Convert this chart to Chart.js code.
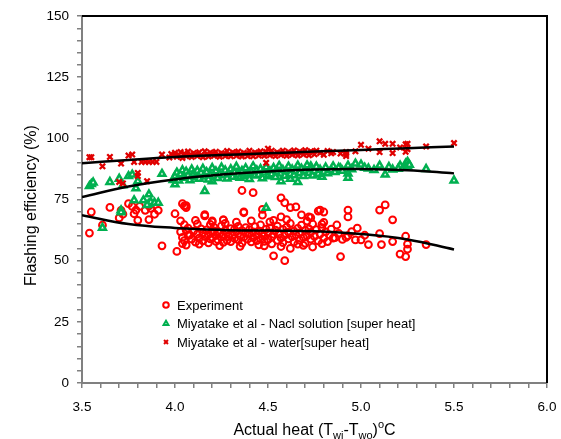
<!DOCTYPE html>
<html>
<head>
<meta charset="utf-8">
<script src="https://cdn.jsdelivr.net/npm/chart.js@4.4.1/dist/chart.umd.min.js"></script>
<style>
  html, body { margin: 0; padding: 0; background: #fff; }
</style>
</head>
<body>
<canvas id="chart" width="561" height="439"></canvas>
<script>
const xMin = 3.5, xMax = 6.0;
const yMin = 0, yMax = 150;

const seriesLabels = [
  'Experiment',
  'Miyatake et al - Nacl solution [super heat]',
  'Miyatake et al - water[super heat]',
];

// experiment, red circles
const experimentPoints = [
  [3.54,61.3],[3.55,69.9],[3.61,64.5],[3.65,71.8],[3.70,67.5],[3.71,70.6],[3.72,69.0],[3.75,73.3],
  [3.77,72.2],[3.78,69.2],[3.79,70.7],[3.80,66.5],[3.81,72.2],[3.84,70.6],[3.86,66.8],[3.86,72.4],
  [3.87,71.4],[3.89,69.0],[3.91,70.6],[3.93,56.1],[4.00,69.2],[4.01,53.8],[4.03,66.3],[4.04,73.3],
  [4.06,72.5],[4.03,61.8],[4.04,59.5],[4.05,58.2],[4.04,57.0],[4.06,62.5],[4.07,60.3],[4.16,68.8],
  [4.20,66.3],[4.21,62.2],[4.26,66.7],[4.36,78.7],[4.37,70.0],[4.42,77.8],[4.48,56.1],[4.53,52.0],
  [4.57,75.7],[4.59,73.7],[4.59,50.0],[4.62,71.7],[4.65,72.0],[4.66,56.8],[4.68,68.7],[4.72,67.9],
  [4.57,67.9],[4.53,66.5],[4.37,69.6],[4.26,66.7],[4.20,65.9],[4.16,68.3],[4.05,72.4],[4.06,71.7],
  [4.47,68.6],[4.47,71.0],[4.77,70.3],[4.73,67.6],[4.78,70.7],[4.80,69.9],[4.79,64.9],[4.85,59.2],
  [4.89,51.7],[4.93,70.7],[4.93,67.9],[4.92,59.5],[4.93,60.2],[4.97,58.5],[5.00,58.5],[5.04,56.6],
  [5.10,70.7],[5.13,72.8],[5.10,61.1],[5.11,56.6],[5.17,66.7],[5.17,57.8],[5.21,52.7],[5.24,60.0],
  [5.25,56.8],[5.25,54.7],[5.24,51.7],[5.35,56.6],
  [4.08,60.5],[4.09,58.8],[4.10,62.1],[4.11,57.6],[4.12,60.9],[4.13,59.2],[4.14,63.0],[4.15,61.4],
  [4.15,58.1],[4.16,59.9],[4.17,62.6],[4.18,57.3],[4.18,60.7],[4.19,58.9],[4.20,61.8],[4.20,59.5],
  [4.21,63.6],[4.22,57.9],[4.22,60.3],[4.23,62.0],[4.23,58.6],[4.24,61.1],[4.25,59.7],[4.25,64.2],
  [4.26,57.5],[4.26,60.8],[4.27,62.4],[4.28,58.3],[4.28,61.5],[4.29,59.9],[4.30,63.1],[4.30,57.8],
  [4.31,60.6],[4.32,62.8],[4.32,59.1],[4.33,61.9],[4.34,58.5],[4.34,64.0],[4.35,60.2],[4.36,62.3],
  [4.36,57.2],[4.37,59.6],[4.38,61.4],[4.38,63.5],[4.39,58.8],[4.40,60.9],[4.40,62.7],[4.41,57.7],
  [4.42,59.4],[4.42,61.8],[4.43,63.9],[4.44,58.2],[4.44,60.5],[4.45,62.2],[4.46,59.0],[4.46,64.6],
  [4.47,61.2],[4.48,57.9],[4.48,60.0],[4.49,62.9],[4.50,58.6],[4.50,61.5],[4.51,63.4],[4.52,59.7],
  [4.52,56.9],[4.53,60.8],[4.54,62.5],[4.55,58.3],[4.55,64.1],[4.56,61.0],[4.57,59.3],[4.58,62.8],
  [4.58,57.4],[4.59,60.4],[4.60,63.7],[4.61,58.9],[4.61,61.7],[4.62,65.2],[4.63,59.8],[4.64,62.1],
  [4.64,57.6],[4.65,60.6],[4.66,63.2],[4.67,58.4],[4.67,61.3],[4.68,64.5],[4.69,59.5],[4.70,62.4],
  [4.70,57.1],[4.71,60.2],[4.72,63.0],[4.73,58.8],[4.73,61.6],[4.74,65.0],[4.75,59.9],[4.76,62.7],
  [4.77,58.1],[4.78,60.9],[4.79,63.5],[4.80,59.2],[4.81,61.8],[4.82,57.8],[4.83,60.5],[4.84,62.9],
  [4.86,59.4],[4.88,61.2],[4.90,58.7],[4.05,64.7],[4.07,63.3],[4.12,65.0],[4.19,64.8],[4.27,65.3],
  [4.06,56.4],[4.13,56.8],[4.24,56.2],[4.35,55.9],[4.45,56.5],[4.57,55.8],[4.62,55.0],[4.69,56.3],
  [4.74,55.6],[4.79,57.0],[4.11,66.5],[4.33,65.8],[4.41,66.3],[4.51,65.9],[4.60,66.8],[4.71,66.2],
  [4.80,65.7],[4.87,64.6],[4.95,61.9],[4.98,63.3],[5.02,60.4],
];

// Miyatake NaCl, green triangles
const naclPoints = [
  [3.54,80.5],[3.55,81.3],[3.56,82.0],[3.65,82.2],[3.70,83.5],[3.72,80.8],[3.75,84.6],[3.77,85.2],
  [3.79,79.6],[3.80,82.5],[3.93,85.5],[3.78,74.7],[3.83,74.7],[3.86,77.1],[3.86,73.3],[3.87,74.0],
  [3.89,73.7],[3.91,73.7],[3.85,72.8],[3.71,70.6],[3.71,69.8],[3.61,63.5],[4.49,71.6],[4.00,81.2],
  [4.16,78.5],[4.20,82.5],[4.57,82.5],[4.62,83.5],[4.66,82.2],[4.85,88.6],[4.89,87.7],[4.93,88.9],
  [4.93,85.6],[4.93,83.9],[4.97,89.7],[5.00,89.3],[5.04,87.7],[5.10,88.9],[5.13,85.2],[5.17,87.3],
  [5.21,88.9],[5.24,89.7],[5.25,90.4],[5.25,88.6],[5.26,89.2],[5.35,87.5],[5.50,82.8],[4.78,85.2],
  [4.79,84.3],[4.73,88.6],[4.76,88.3],
  [3.99,83.0],[4.00,84.6],[4.01,86.0],[4.02,82.8],[4.03,85.3],[4.04,87.0],[4.05,83.9],[4.06,86.4],
  [4.07,84.8],[4.08,82.9],[4.09,87.3],[4.10,85.6],[4.11,84.1],[4.12,86.8],[4.13,83.5],[4.14,85.9],
  [4.15,87.6],[4.16,84.4],[4.17,86.2],[4.18,83.2],[4.19,85.0],[4.20,87.9],[4.21,84.7],[4.22,86.5],
  [4.23,83.8],[4.24,85.4],[4.25,88.1],[4.26,84.9],[4.27,86.9],[4.28,83.6],[4.29,85.7],[4.30,87.4],
  [4.31,84.3],[4.32,86.1],[4.33,88.4],[4.34,85.2],[4.35,83.9],[4.36,86.7],[4.37,84.6],[4.38,87.8],
  [4.39,85.5],[4.40,83.4],[4.41,86.3],[4.42,88.6],[4.43,84.8],[4.44,86.9],[4.45,85.1],[4.46,87.5],
  [4.47,83.7],[4.48,86.0],[4.49,88.2],[4.50,84.5],[4.51,86.6],[4.52,85.3],[4.53,87.9],[4.54,84.2],
  [4.55,86.4],[4.56,88.8],[4.57,85.6],[4.58,87.1],[4.59,84.7],[4.60,86.8],[4.61,88.5],[4.62,85.4],
  [4.63,87.3],[4.64,84.9],[4.65,86.5],[4.66,88.9],[4.67,85.8],[4.68,87.6],[4.69,84.6],[4.70,86.9],
  [4.71,89.0],[4.72,85.9],[4.73,87.4],[4.74,84.8],[4.75,86.7],[4.76,88.4],[4.77,85.5],[4.78,87.2],
  [4.80,86.3],[4.81,88.1],[4.82,85.7],[4.84,87.0],[4.86,86.2],[4.88,88.0],[4.90,86.8],[4.95,87.4],
  [5.02,88.0],[5.07,87.1],[5.15,88.3],[5.20,87.6],
];

// Miyatake water, red crosses
const waterPoints = [
  [3.54,92.3],[3.55,92.3],[3.61,88.6],[3.65,92.4],[3.71,89.7],[3.75,93.0],[3.77,93.4],[3.78,90.4],
  [3.80,85.9],[3.80,84.6],[3.70,82.2],[3.72,81.6],[3.85,82.5],[3.82,90.4],[3.84,90.4],[3.86,90.4],
  [3.88,90.4],[3.90,90.4],[3.93,93.4],[4.49,90.0],[4.50,95.8],[5.00,97.4],[5.04,95.8],[5.10,98.8],
  [5.13,97.8],[5.17,97.8],[5.17,94.0],[5.10,94.4],[5.21,96.3],[5.24,97.6],[5.25,97.8],[5.24,94.5],
  [5.25,95.6],[5.35,96.7],[5.50,98.1],[4.85,94.4],[4.89,93.8],[4.92,94.4],[4.92,92.8],[4.97,94.7],
  [4.92,93.6],
  [3.97,92.2],[3.98,93.6],[3.99,92.9],[4.00,94.1],[4.01,92.5],[4.02,93.3],[4.03,94.4],[4.04,92.0],
  [4.05,93.8],[4.06,92.7],[4.07,94.6],[4.08,93.1],[4.09,92.4],[4.10,94.0],[4.11,93.5],[4.12,92.8],
  [4.13,94.3],[4.14,93.0],[4.15,92.3],[4.16,94.7],[4.17,93.4],[4.18,92.6],[4.19,94.2],[4.20,93.7],
  [4.21,92.9],[4.22,94.5],[4.23,93.2],[4.24,92.5],[4.25,94.0],[4.26,93.6],[4.27,92.8],[4.28,94.8],
  [4.29,93.3],[4.30,92.7],[4.31,94.3],[4.32,93.8],[4.33,92.9],[4.34,94.6],[4.35,93.4],[4.36,92.6],
  [4.37,94.1],[4.38,93.7],[4.39,92.8],[4.40,94.9],[4.41,93.5],[4.42,92.7],[4.43,94.2],[4.44,93.9],
  [4.45,93.0],[4.46,94.7],[4.47,93.6],[4.48,92.9],[4.49,94.4],[4.50,93.8],[4.51,93.1],[4.52,94.9],
  [4.53,93.5],[4.54,92.8],[4.55,94.3],[4.56,93.9],[4.57,93.2],[4.58,95.0],[4.59,93.7],[4.60,92.9],
  [4.61,94.5],[4.62,94.0],[4.63,93.3],[4.64,95.1],[4.65,93.8],[4.66,93.0],[4.67,94.6],[4.68,94.1],
  [4.69,93.4],[4.70,95.2],[4.71,93.9],[4.72,93.1],[4.73,94.7],[4.74,94.2],[4.75,93.5],[4.76,95.0],
  [4.78,94.0],[4.80,93.3],[4.82,94.8],[4.84,93.9],
];

// trend lines
const fitX = [3.5, 3.75, 4.0, 4.25, 4.5, 4.75, 5.0, 5.25, 5.5];
const experimentFitY = [68.6, 65.0, 63.4, 62.6, 62.3, 62.0, 60.9, 58.7, 54.6];
const naclFitY = [76.0, 80.3, 83.2, 85.2, 86.5, 87.3, 87.5, 87.0, 85.7];
const waterFitY = [89.8, 91.2, 92.4, 93.2, 93.9, 94.6, 95.3, 96.0, 96.7];

const FONT = '"Liberation Sans", Arial, sans-serif';
const RED = '#ff0000';
const DARK_RED = '#e00000';
const GREEN = '#00b050';
const AXIS_GRAY = '#808080';

const toPoints = (pairs) => pairs.map(([x, y]) => ({ x, y }));
const fitLine = (ys) => fitX.map((x, i) => ({ x, y: ys[i] }));

const legendItems = [
  { label: seriesLabels[0], pointStyle: 'circle', color: RED, fill: 'rgba(0,0,0,0)' },
  { label: seriesLabels[1], pointStyle: 'triangle', color: GREEN, fill: '#ffffff' },
  { label: seriesLabels[2], pointStyle: 'crossRot', color: DARK_RED, fill: 'rgba(0,0,0,0)' },
];

function drawRichText(ctx, parts, x, y, size) {
  // parts: [text, kind] kind 0 normal, 1 sub, 2 sup
  const fontFor = (kind) => `${kind ? Math.round(size * 0.68) : size}px ${FONT}`;
  let total = 0;
  parts.forEach(([t, k]) => { ctx.font = fontFor(k); total += ctx.measureText(t).width; });
  let cx = x - total / 2;
  parts.forEach(([t, k]) => {
    ctx.font = fontFor(k);
    const dy = k === 1 ? size * 0.3 : k === 2 ? -size * 0.38 : 0;
    ctx.fillText(t, cx, y + dy);
    cx += ctx.measureText(t).width;
  });
}

const decorPlugin = {
  id: 'decor',
  afterDraw(chart) {
    const { ctx, chartArea } = chart;
    ctx.save();

    // top and right frame lines
    ctx.strokeStyle = '#000';
    ctx.lineWidth = 2;
    ctx.beginPath();
    ctx.moveTo(chartArea.left, chartArea.top);
    ctx.lineTo(chartArea.right, chartArea.top);
    ctx.lineTo(chartArea.right, chartArea.bottom);
    ctx.stroke();

    // axis titles
    ctx.fillStyle = '#000';
    ctx.textBaseline = 'middle';
    ctx.textAlign = 'left';
    drawRichText(ctx, [
      ['Actual heat (T', 0], ['wi', 1], ['-T', 0], ['wo', 1], [')', 0], ['o', 2], ['C', 0],
    ], (chartArea.left + chartArea.right) / 2, 431, 16);

    ctx.save();
    ctx.translate(32, (chartArea.top + chartArea.bottom) / 2 + 6);
    ctx.rotate(-Math.PI / 2);
    ctx.textAlign = 'center';
    ctx.font = `16px ${FONT}`;
    ctx.fillText('Flashing efficiency (%)', 0, 0);
    ctx.restore();

    // legend inside plot
    ctx.font = `13px ${FONT}`;
    ctx.textAlign = 'left';
    legendItems.forEach((item, i) => {
      const y = 305 + i * 18.5;
      ctx.strokeStyle = item.color;
      ctx.fillStyle = item.fill;
      Chart.helpers.drawPoint(ctx, {
        pointStyle: item.pointStyle, radius: 2.8, borderWidth: 2, rotation: 0,
      }, 166, y);
      ctx.fillStyle = '#000';
      ctx.fillText(item.label, 177, y + 1);
    });

    ctx.restore();
  },
};

const isMajor = (v, step) => Math.abs(v / step - Math.round(v / step)) < 1e-6;

new Chart(document.getElementById('chart'), {
  type: 'scatter',
  data: {
    datasets: [
      {
        type: 'line', data: fitLine(experimentFitY), borderColor: '#000', borderWidth: 2.5,
        pointRadius: 0, tension: 0.4, fill: false, order: 0,
      },
      {
        type: 'line', data: fitLine(naclFitY), borderColor: '#000', borderWidth: 2.5,
        pointRadius: 0, tension: 0.4, fill: false, order: 0,
      },
      {
        type: 'line', data: fitLine(waterFitY), borderColor: '#000', borderWidth: 2.5,
        pointRadius: 0, tension: 0.4, fill: false, order: 0,
      },
      {
        label: seriesLabels[2], data: toPoints(waterPoints), pointStyle: 'crossRot',
        pointRadius: 3.8, borderColor: DARK_RED, borderWidth: 2.3, order: 1,
      },
      {
        label: seriesLabels[1], data: toPoints(naclPoints), pointStyle: 'triangle',
        pointRadius: 3.9, borderColor: GREEN, backgroundColor: '#ffffff', borderWidth: 2.5, order: 2,
      },
      {
        label: seriesLabels[0], data: toPoints(experimentPoints), pointStyle: 'circle',
        pointRadius: 3.4, borderColor: RED, backgroundColor: 'rgba(0,0,0,0)', borderWidth: 2, order: 3,
      },
    ],
  },
  options: {
    responsive: false,
    animation: false,
    layout: { padding: { top: 14, right: 14, left: 0, bottom: 0 } },
    plugins: {
      legend: { display: false },
      tooltip: { enabled: false },
    },
    scales: {
      x: {
        type: 'linear',
        min: xMin,
        max: xMax,
        afterFit: (scale) => {
          scale.height = 56;
          scale.paddingLeft = 0;
          scale.paddingRight = 0;
        },
        ticks: {
          stepSize: 0.1,
          autoSkip: false,
          maxRotation: 0,
          padding: 11,
          color: '#000',
          font: { family: FONT, size: 13.5 },
          callback: (v) => (isMajor(v, 0.5) ? Number(v).toFixed(1) : ''),
        },
        grid: { drawOnChartArea: false, drawTicks: true, tickLength: 5, color: AXIS_GRAY, lineWidth: 1.5 },
        border: { display: true, color: AXIS_GRAY, width: 2 },
      },
      y: {
        min: yMin,
        max: yMax,
        afterFit: (scale) => { scale.width = 82; },
        ticks: {
          stepSize: 5,
          autoSkip: false,
          padding: 8,
          color: '#000',
          font: { family: FONT, size: 13.5 },
          callback: (v) => (isMajor(v, 25) ? String(v) : ''),
        },
        grid: { drawOnChartArea: false, drawTicks: true, tickLength: 5, color: AXIS_GRAY, lineWidth: 1.5 },
        border: { display: true, color: AXIS_GRAY, width: 2 },
      },
    },
  },
  plugins: [decorPlugin],
});
</script>
</body>
</html>
